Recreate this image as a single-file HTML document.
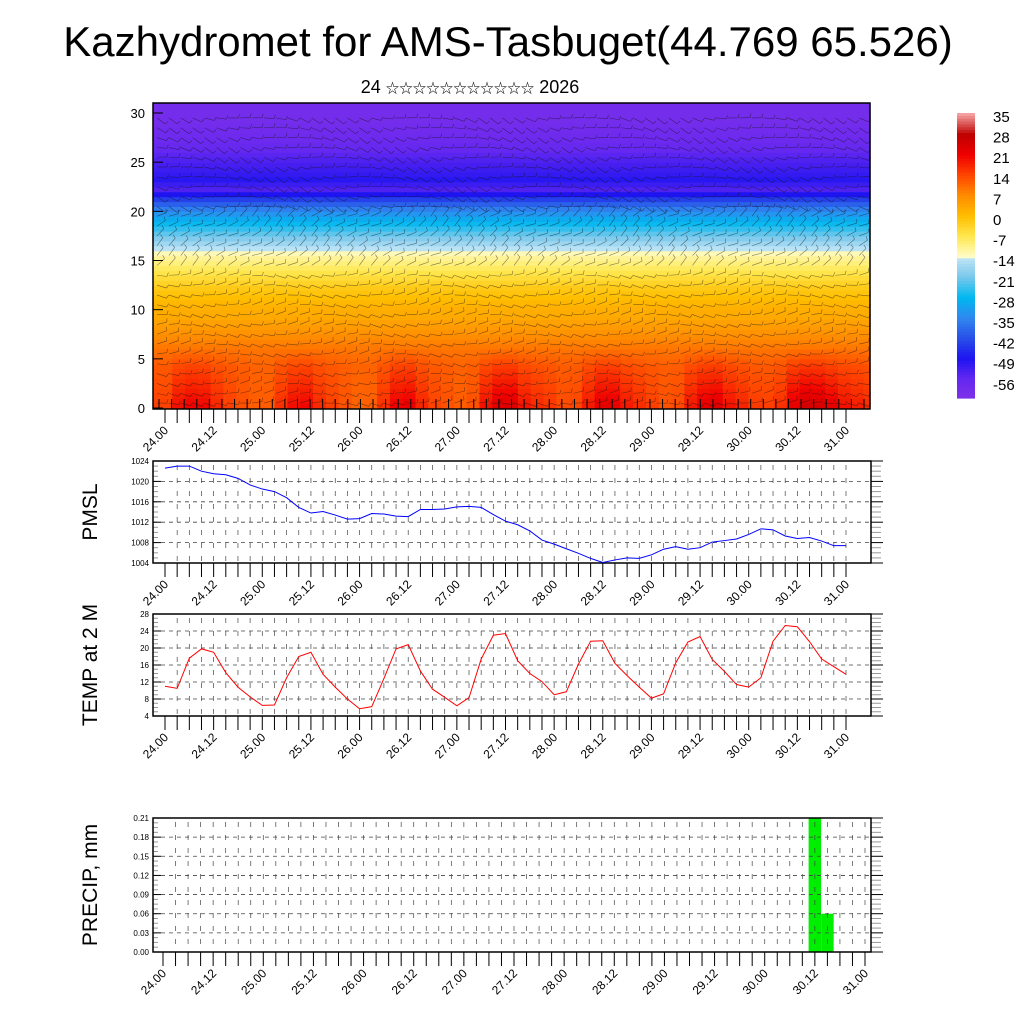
<!DOCTYPE html>
<html><head><meta charset="utf-8">
<style>
body{margin:0;background:#fff;}
svg{display:block;font-family:"Liberation Sans","Noto Sans CJK SC",sans-serif;}
</style></head>
<body>
<svg id="chart" width="1024" height="1024" viewBox="0 0 1024 1024" xmlns="http://www.w3.org/2000/svg">
<text x="508" y="56" font-size="42" text-anchor="middle">Kazhydromet for AMS-Tasbuget(44.769 65.526)</text>
<text x="470" y="93" font-size="18" text-anchor="middle">24 <tspan font-size="13.5">☆☆☆☆☆☆☆☆☆☆☆</tspan> 2026</text>
<g id="top"></g>
<g id="cbar"></g>
<g id="pmsl"></g>
<g id="temp"></g>
<g id="precip"></g>
</svg>
<script>
const xLabels=["24.00","24.12","25.00","25.12","26.00","26.12","27.00","27.12","28.00","28.12","29.00","29.12","30.00","30.12","31.00"];
const pmslValues=[1022.6,1023.0,1023.0,1022.0,1021.5,1021.3,1020.6,1019.3,1018.5,1018.0,1016.8,1014.9,1013.8,1014.1,1013.4,1012.6,1012.7,1013.7,1013.6,1013.2,1013.1,1014.5,1014.5,1014.6,1015.0,1015.1,1014.9,1013.5,1012.2,1011.5,1010.3,1008.5,1007.7,1006.8,1005.9,1004.9,1004.1,1004.6,1005.0,1004.9,1005.6,1006.7,1007.2,1006.7,1007.0,1008.1,1008.4,1008.7,1009.6,1010.7,1010.5,1009.3,1008.8,1009.0,1008.3,1007.4,1007.4];
const tempValues=[11.0,10.5,17.6,19.8,19.0,14.2,10.8,8.5,6.5,6.6,13.0,18.0,19.0,13.8,10.8,8.0,5.7,6.2,12.8,19.8,20.8,14.6,10.3,8.4,6.4,8.3,17.4,23.0,23.4,17.0,14.0,12.1,9.0,9.7,16.2,21.6,21.7,16.4,13.5,10.8,8.2,9.2,16.5,21.4,22.7,17.3,14.5,11.4,10.8,13.0,21.6,25.3,25.0,21.5,17.4,15.6,13.8];
const precipIndex=[52,53];
const precipValues=[0.25,0.06];
const pmslTicks=[1004,1008,1012,1016,1020,1024];
const tempTicks=[4,8,12,16,20,24,28];
const precipTicks=[0,0.03,0.06,0.09,0.12,0.15,0.18,0.21];
const heightTicks=[0,5,10,15,20,25,30];
const profile=[17,16,15,14,13,11,9,7,5,3,2,0,-2,-5,-8,-11,-15,-20,-25,-30,-36,-44,-54,-50,-52,-54,-56,-58,-59,-60,-60,-60];
const cbarLabels=["35","28","21","14","7","0","-7","-14","-21","-28","-35","-42","-49","-56"];

const NS="http://www.w3.org/2000/svg";
function mk(parent,tag,attrs){const e=document.createElementNS(NS,tag);for(const k in attrs)e.setAttribute(k,attrs[k]);parent.appendChild(e);return e;}

const stops=[[-63,[128,48,232]],[-56,[100,40,240]],[-49,[30,20,240]],[-42,[40,80,232]],[-35,[48,136,240]],[-28,[0,184,240]],[-21,[120,200,236]],[-14.01,[196,230,246]],[-14,[255,252,200]],[-7,[255,232,80]],[0,[255,190,0]],[7,[255,140,0]],[14,[255,70,0]],[21,[240,0,0]],[28,[190,0,0]],[35,[244,160,160]]];
function col(v){if(v<=stops[0][0])return rgb(stops[0][1]);for(let i=1;i<stops.length;i++){if(v<=stops[i][0]){const a=stops[i-1],b=stops[i];const t=(v-a[0])/(b[0]-a[0]);return rgb(a[1].map((c,j)=>c+(b[1][j]-c)*t));}}return rgb(stops[stops.length-1][1]);}
function rgb(c){return "rgb("+c.map(Math.round).join(",")+")";}

const n=tempValues.length;
function xMain(i){return 165+i*(846-165)/56;}
function xPrec(i){return 163+i*(865-163)/56;}

function xAxis(g,y,xf,name){
  for(let i=0;i<n;i++){mk(g,"line",{x1:xf(i),x2:xf(i),y1:y,y2:y+14,stroke:"#000","stroke-width":1});}
  xLabels.forEach((l,k)=>{const x=xf(k*4);const t=mk(g,"text",{x:x+4,y:y+22,"font-size":12,"text-anchor":"end",transform:`rotate(-45 ${x+4} ${y+22})`});t.textContent=l;
    
    });
}
function panel(g,top,bot,ticks,ymin,ymax,fmt,xf,title,name){
  const L=153,R=871;
  const yf=v=>bot-(v-ymin)/(ymax-ymin)*(bot-top);
  for(let i=1;i<n;i++){const x=xf(i);if(x>L&&x<R)mk(g,"line",{x1:x,x2:x,y1:top+4,y2:bot,stroke:"#444","stroke-width":0.7,"stroke-dasharray":"5,8"});}
  ticks.forEach((v,k)=>{const y=yf(v);
    if(k>0&&k<ticks.length-1)mk(g,"line",{x1:L,x2:R,y1:y,y2:y,stroke:"#444","stroke-width":0.8,"stroke-dasharray":"4,4"});
    mk(g,"line",{x1:L,x2:L+8,y1:y,y2:y,stroke:"#000"});mk(g,"line",{x1:R,x2:R+12,y1:y,y2:y,stroke:"#000"});
    const t=mk(g,"text",{x:L-4,y:y+3,"font-size":8,"text-anchor":"end"});t.textContent=fmt(v);
    
    
    if(k<ticks.length-1){for(let m=1;m<4;m++){const ym=yf(v+(ticks[1]-ticks[0])*m/4);mk(g,"line",{x1:R,x2:R+10,y1:ym,y2:ym,stroke:"#999"});mk(g,"line",{x1:L,x2:L+5,y1:ym,y2:ym,stroke:"#999"});}}
  });
  mk(g,"rect",{x:L,y:top,width:R-L,height:bot-top,fill:"none",stroke:"#000","stroke-width":1.5});
  const tt=mk(g,"text",{x:97,y:(top+bot)/2,"font-size":21,"text-anchor":"middle",transform:`rotate(-90 97 ${(top+bot)/2})`});tt.textContent=title;
  
  
  xAxis(g,bot,xf,name);
  return yf;
}

(function(){
  const g=document.getElementById("top");
  const L=153,R=870,T=103,B=409;const yf=h=>408-h*(408-113)/30;
  const cw=(R-L)/56;
  for(let i=0;i<n;i++){
    for(let h=0;h<62;h++){
      const hk=h/2;const lo=Math.floor(hk),hi=Math.min(31,lo+1);const f=hk-lo;
      let v=profile[lo]*(1-f)+profile[hi]*f;
      v+= (tempValues[i]-14)*Math.max(0,1-hk/6)*0.7;
      const x=L+(i-0.5)*cw;const y1=yf(hk+0.5),y0=yf(hk);
      const xs=Math.max(L,x),xe=Math.min(R,x+cw);
      const r=mk(g,"rect",{x:xs,y:Math.max(T,y1),width:xe-xs+0.6,height:y0-Math.max(T,y1)+0.6,fill:col(v)});
      
      
    }
  }
  const bg=mk(g,"g",{stroke:"#111","stroke-width":0.6,opacity:0.55});
  for(let gy=0;gy<30;gy++){for(let gx=0;gx<60;gx++){
    const x=L+4+gx*11.9,y=yf(gy+0.5);
    const a=(gy<14?0:gy<20?-0.6:0.3)+0.35*Math.sin(gx*0.45+gy*0.7);
    const len=10;mk(bg,"line",{x1:x,y1:y,x2:x+len*Math.cos(a),y2:y+len*Math.sin(a)});
    mk(bg,"line",{x1:x+len*Math.cos(a),y1:y+len*Math.sin(a),x2:x+len*Math.cos(a)+4*Math.cos(a-1.3),y2:y+len*Math.sin(a)+4*Math.sin(a-1.3)});
  }}
  for(let i=0;i<n;i++){const x=L+6+i*(R-L-12)/56;mk(g,"line",{x1:x,x2:x,y1:B,y2:B-10,stroke:"#000"});}
  mk(g,"rect",{x:L,y:T,width:R-L,height:B-T,fill:"none",stroke:"#000","stroke-width":1.5});
  heightTicks.forEach(v=>{const y=yf(v);mk(g,"line",{x1:L,x2:L+10,y1:y,y2:y,stroke:"#000"});
    const t=mk(g,"text",{x:L-8,y:y+5,"font-size":13,"text-anchor":"end"});t.textContent=v;
    
    });
  xAxis(g,409,xMain,"top");
})();

(function(){
  const g=document.getElementById("cbar");
  const T=113,B=398;
  for(let k=0;k<100;k++){const v=35-k*(35+63)/100;const y=T+k*(B-T)/100;mk(g,"rect",{x:957,y:y,width:18,height:(B-T)/100+0.6,fill:col(v)});}
  cbarLabels.forEach((l,k)=>{const t=mk(g,"text",{x:993,y:122+k*20.6,"font-size":15});t.textContent=l;
    
    });
})();

(function(){
  const g=document.getElementById("pmsl");
  const yf=panel(g,461,563,pmslTicks,1004,1024,v=>v,xMain,"PMSL","pmsl");
  const p=mk(g,"polyline",{points:pmslValues.map((v,i)=>xMain(i)+","+yf(v)).join(" "),fill:"none",stroke:"#0000ff","stroke-width":1});
  
  
})();

(function(){
  const g=document.getElementById("temp");
  const yf=panel(g,614,716,tempTicks,4,28,v=>v,xMain,"TEMP at 2 M","temp");
  const p=mk(g,"polyline",{points:tempValues.map((v,i)=>xMain(i)+","+yf(v)).join(" "),fill:"none",stroke:"#ff0000","stroke-width":1});
  
  
})();

(function(){
  const g=document.getElementById("precip");
  const top=818,bot=952;const yf=v=>bot-Math.min(v,0.21)/0.21*(bot-top);
  const w=(865-163)/56;
  precipIndex.forEach((idx,k)=>{const x=xPrec(idx)-w/2;const r=mk(g,"rect",{x:x,y:yf(precipValues[k]),width:w,height:bot-yf(precipValues[k]),fill:"#00ee00"});
    
    });
  panel(g,top,bot,precipTicks,0,0.21,v=>v.toFixed(2),xPrec,"PRECIP, mm","precip");
})();
</script>
</body></html>
